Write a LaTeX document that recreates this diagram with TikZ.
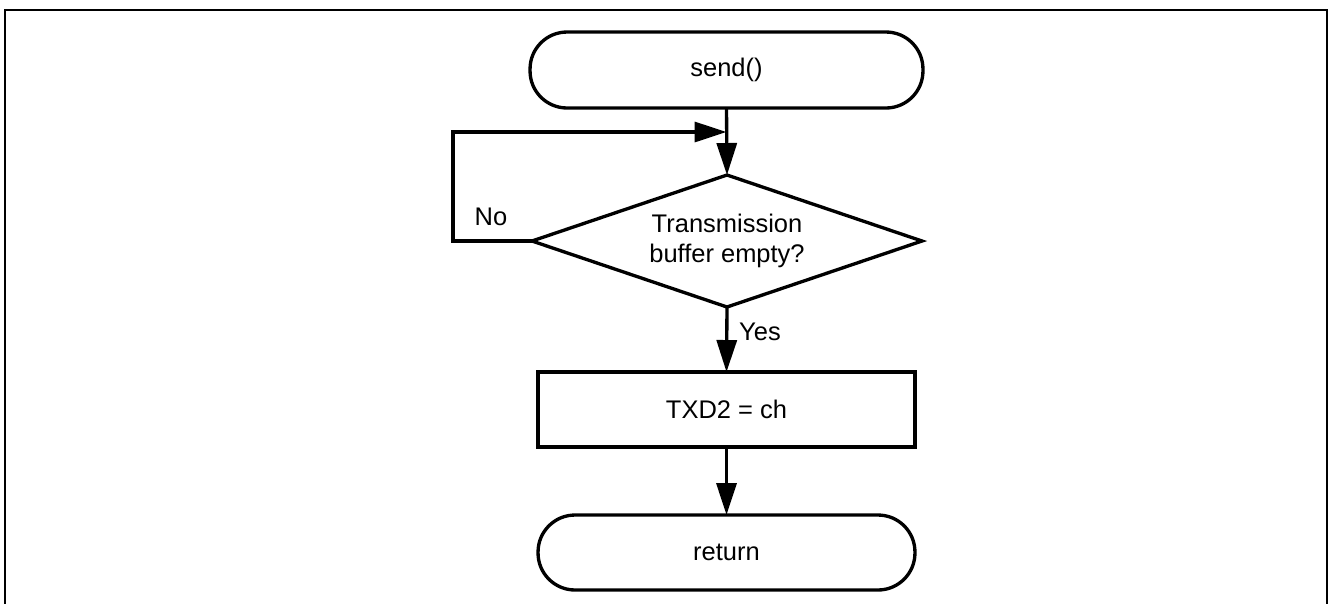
\documentclass[tikz,border=0pt]{standalone}
\usepackage{fontspec}
\setmainfont{Liberation Sans}
\usetikzlibrary{arrows.meta}
\begin{document}
\begin{tikzpicture}[x=0.02cm,y=-0.02cm,
  every node/.style={font=\fontsize{14.5}{17.4}\selectfont, outer sep=0pt, inner sep=0pt},
  shp/.style={draw, line width=1.9pt},
  term/.style={shp, rounded corners=0.74cm, minimum width=7.54cm, minimum height=1.5cm},
  proc/.style={shp, rectangle, minimum width=7.54cm, minimum height=1.5cm},
  dectext/.style={align=center},
  conn/.style={line width=1.9pt, -{Triangle[length=0.64cm,width=0.4cm]}},
  lbl/.style={}
]
\useasboundingbox (0,0) rectangle (1328,603);
\draw[line width=1.15pt] (5,640) -- (5,10) -- (1327,10) -- (1327,640);

\node[term, minimum width=7.86cm, minimum height=1.52cm] (send) at (726.5,70) {send()};
\node[dectext] (dec) at (727,241) {Transmission\\buffer empty?};
\coordinate (decn) at (727,175);
\coordinate (decs) at (727,307);
\coordinate (decw) at (532,241);
\coordinate (dece) at (922,241);
\draw[shp, line join=miter] (decn) -- (dece) -- (decs) -- (decw) -- cycle;
\node[proc] (txd) at (726.5,409.5) {TXD2 = ch};
\node[term] (ret) at (726.5,552.5) {return};

\coordinate (lb) at (453,241);
\coordinate (lt) at (453,132);

\draw[conn] (send.south) -- (decn);
\draw[conn] (decw) -- (lb) -- (lt) -- (send.south |- lt);
\draw[conn] (decs) -- (txd.north);
\draw[conn] (txd.south) -- (ret.north);

\node[lbl] (no) at (491,217) {No};
\node[lbl] (yes) at (760,332) {Yes};
\end{tikzpicture}
\end{document}
